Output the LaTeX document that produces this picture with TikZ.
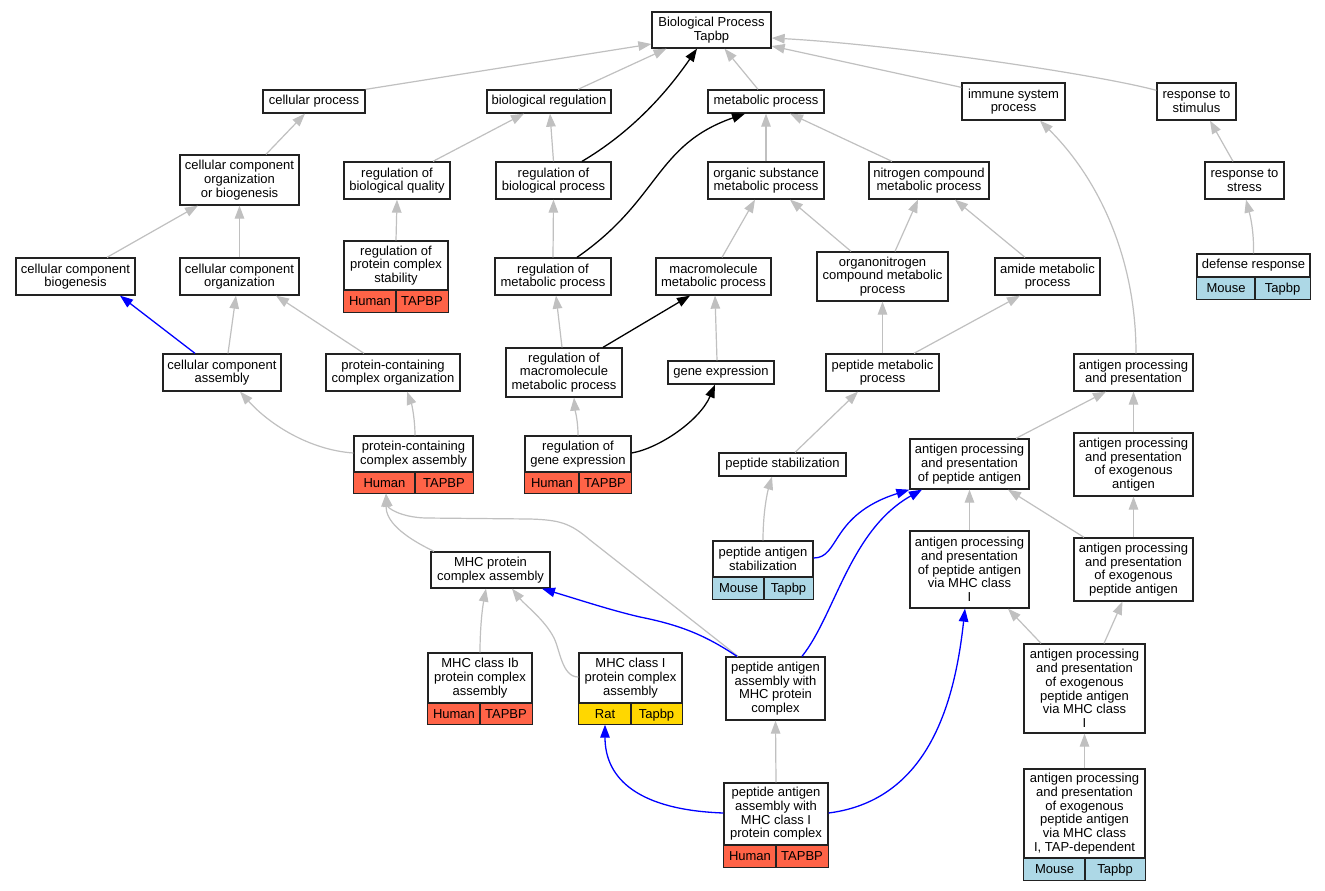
\documentclass[tikz,border=0pt]{standalone}
\usepackage{fontspec}
\setmainfont{Liberation Sans}
\usetikzlibrary{arrows.meta,fit,calc}
\definecolor{tomatoc}{HTML}{FF6347}
\definecolor{lblue}{HTML}{ADD8E6}
\definecolor{goldc}{HTML}{FFD700}
\definecolor{edgegray}{HTML}{C0C0C0}
\definecolor{bordc}{HTML}{222222}
\tikzset{
  box/.style={draw=bordc, line width=1.3pt, fill=white, inner sep=0pt},
  txt/.style={inner sep=0pt, align=center, font=\fontsize{13}{13.7}\selectfont},
  bd/.style={draw=bordc, line width=1.3pt},
  spHuman/.style={fill=tomatoc},
  spMouse/.style={fill=lblue},
  spRat/.style={fill=goldc},
  g/.style={draw=edgegray, line width=1.2pt, -{Triangle[length=13pt,width=9.5pt]}},
  k/.style={draw=black, line width=1.3pt, -{Triangle[length=13pt,width=9.5pt]}},
  b/.style={draw=blue, line width=1.3pt, -{Triangle[length=13pt,width=9.5pt]}}
}
\def\spaHuman{Human}\def\spbHuman{TAPBP}
\def\spaMouse{Mouse}\def\spbMouse{Tapbp}
\def\spaRat{Rat}\def\spbRat{Tapbp}
\newcommand\gob[6]{\node[box, fit={(#2,#3) (#4,#5)}] (#1) {};
  \node[txt] at (#1.center) {#6};}
\newcommand\spn[9]{%
  \node[box, fit={(#2,#3) (#4,#6)}] (#1) {};
  \fill[sp#9] (#2,#5) rectangle (#4,#6);
  \draw[bd] (#2,#5) -- (#4,#5) (#7,#5) -- (#7,#6);
  \draw[bd] (#1.north west) rectangle (#1.south east);
  \node[txt] at ({(#2+#4)/2},{(#3+#5)/2}) {#8};
  \node[txt, anchor=base] at ({(#2+#7)/2},{(#5+#6)/2+4.6}) {\csname spa#9\endcsname};
  \node[txt, anchor=base] at ({(#7+#4)/2},{(#5+#6)/2+4.6}) {\csname spb#9\endcsname};
}
\begin{document}
\begin{tikzpicture}[x=1pt,y=-1pt]
\useasboundingbox[fill=white] (0,0) rectangle (1325,891);
% nodes
\gob{BP}{652}{12}{771}{48}{Biological Process\\Tapbp}
\gob{cp}{263}{90}{365}{113}{cellular process}
\gob{br}{487}{90}{611}{113}{biological regulation}
\gob{mp}{708}{90}{824}{113}{metabolic process}
\gob{isp}{962}{83}{1065}{120}{immune system\\process}
\gob{rs}{1157}{83}{1236}{120}{response to\\stimulus}
\gob{ccob}{180}{155}{299}{205}{cellular component\\organization\\or biogenesis}
\gob{rbq}{344}{162}{450}{199}{regulation of\\biological quality}
\gob{rbp}{496}{162}{611}{199}{regulation of\\biological process}
\gob{osm}{708}{162}{824}{199}{organic substance\\metabolic process}
\gob{ncm}{869}{162}{989}{199}{nitrogen compound\\metabolic process}
\gob{rst}{1205}{162}{1284}{199}{response to\\stress}
\gob{ccb}{16}{258}{135}{295}{cellular component\\biogenesis}
\gob{cco}{180}{258}{299}{295}{cellular component\\organization}
\spn{rpcs}{344}{241}{448}{290}{312}{396}{regulation of\\protein complex\\stability}{Human}
\gob{rmp}{495}{258}{611}{295}{regulation of\\metabolic process}
\gob{mmp}{656}{258}{771}{295}{macromolecule\\metabolic process}
\gob{onc}{817}{252}{948}{301}{organonitrogen\\compound metabolic\\process}
\gob{amp}{995}{258}{1100}{295}{amide metabolic\\process}
\spn{dr}{1197}{254}{1310}{277}{299}{1255}{defense response}{Mouse}
\gob{cca}{163}{354}{281}{391}{cellular component\\assembly}
\gob{pcco}{326}{354}{460}{391}{protein-containing\\complex organization}
\gob{rmm}{506}{348}{622}{397}{regulation of\\macromolecule\\metabolic process}
\gob{ge}{668}{361}{774}{384}{gene expression}
\gob{pmp}{826}{354}{939}{391}{peptide metabolic\\process}
\gob{app}{1074}{354}{1193}{391}{antigen processing\\and presentation}
\spn{pcca}{354}{436}{473}{472}{493}{415}{protein-containing\\complex assembly}{Human}
\spn{rge}{525}{436}{631}{472}{493}{579}{regulation of\\gene expression}{Human}
\gob{ps}{719}{453}{846}{476}{peptide stabilization}
\gob{appa}{910}{439}{1029}{489}{antigen processing\\and presentation\\of peptide antigen}
\gob{appe}{1074}{433}{1193}{496}{antigen processing\\and presentation\\of exogenous\\antigen}
\spn{pas}{713}{541}{813}{577}{599}{764}{peptide antigen\\stabilization}{Mouse}
\gob{mhca}{431}{552}{550}{588}{MHC protein\\complex assembly}
\gob{appm1}{910}{531}{1029}{608}{antigen processing\\and presentation\\of peptide antigen\\via MHC class\\I}
\gob{appep}{1074}{538}{1193}{601}{antigen processing\\and presentation\\of exogenous\\peptide antigen}
\spn{mhcib}{428}{653}{532}{703}{724}{480}{MHC class Ib\\protein complex\\assembly}{Human}
\spn{mhci}{579}{653}{682}{703}{724}{631}{MHC class I\\protein complex\\assembly}{Rat}
\gob{pamhc}{726}{657}{825}{720}{peptide antigen\\assembly with\\MHC protein\\complex}
\spn{pamhc1}{724}{783}{828}{845}{867}{776}{peptide antigen\\assembly with\\MHC class I\\protein complex}{Human}
\gob{appepm1}{1024}{644}{1145}{733}{antigen processing\\and presentation\\of exogenous\\peptide antigen\\via MHC class\\I}
\spn{tap}{1024}{769}{1145}{858}{880}{1085}{antigen processing\\and presentation\\of exogenous\\peptide antigen\\via MHC class\\I, TAP-dependent}{Mouse}
% gray edges
\draw[g] (cp.north east) -- ([yshift=-14pt]BP.west);
\draw[g] ([xshift=29pt]br.north) -- ([xshift=-45pt]BP.south);
\draw[g] ([xshift=-8pt]mp.north) -- ([xshift=13pt]BP.south);
\draw[g] ([yshift=-5pt]isp.north west) -- ([yshift=-16pt]BP.east);
\draw[g] ([yshift=-8pt]rs.north west) .. controls (1100,75) and (900,45) .. ([yshift=-8pt]BP.east);
\draw[g] ([xshift=26.5pt]ccob.north) -- ([xshift=-9pt]cp.south);
\draw[g] ([xshift=36pt]rbq.north) -- ([xshift=-25pt]br.south);
\draw[g] (rbp.north) -- ([xshift=1pt]br.south);
\draw[g] (osm.north) -- (mp.south);
\draw[g] ([xshift=-37pt]ncm.north) -- ([xshift=24pt]mp.south);
\draw[g] ([xshift=-11.5pt]rst.north) -- ([xshift=13.5pt]rs.south);
\draw[g] ([xshift=31.5pt]ccb.north) -- ([xshift=-41.5pt]ccob.south);
\draw[g] (cco.north) -- (ccob.south);
\draw[g] (rpcs.north) -- (rbq.south);
\draw[g] (rmp.north) -- (rbp.south);
\draw[g] ([xshift=8.5pt]mmp.north) -- ([xshift=-11pt]osm.south);
\draw[g] ([xshift=-31.5pt]onc.north) -- ([xshift=24pt]osm.south);
\draw[g] ([xshift=12.5pt]onc.north) -- ([xshift=-11pt]ncm.south);
\draw[g] ([xshift=-22.5pt]amp.north) -- ([xshift=26pt]ncm.south);
\draw[g] (dr.north) .. controls (1254,230) and (1250,215) .. ([xshift=1.5pt]rst.south);
\draw[g] ([xshift=6pt]cca.north) -- ([xshift=-3.5pt]cco.south);
\draw[g] ([xshift=-29pt]pcco.north) -- ([xshift=36.5pt]cco.south);
\draw[g] ([xshift=-2pt]rmm.north) -- ([xshift=3pt]rmp.south);
\draw[g] ([xshift=-4pt]ge.north) -- ([xshift=1.5pt]mmp.south);
\draw[g] (pmp.north) -- (onc.south);
\draw[g] ([xshift=31.5pt]pmp.north) -- ([xshift=-27.5pt]amp.south);
\draw[g] ([xshift=2.5pt]app.north) .. controls (1136,260) and (1100,180) .. ([xshift=26.5pt]isp.south);
\draw[g] ([yshift=11.5pt]pcca.west) .. controls (310,450) and (270,425) .. ([xshift=18pt]cca.south);
\draw[g] ([xshift=1.5pt]pcca.north) .. controls (415,420) and (412,405) .. ([xshift=14pt]pcco.south);
\draw[g] (rge.north) .. controls (578,420) and (575,410) .. ([xshift=10pt]rmm.south);
\draw[g] ([xshift=12.5pt]ps.north) -- ([xshift=-24.5pt]pmp.south);
\draw[g] ([xshift=46.5pt]appa.north) -- ([xshift=-27.5pt]app.south);
\draw[g] (appe.north) -- (app.south);
\draw[g] ([xshift=-56.5pt]mhca.north) .. controls (400,535) and (386,520) .. ([xshift=-27.5pt]pcca.south);
\draw[g] ([xshift=-37.5pt]pamhc.north) -- (590,540) .. controls (570,523) and (560,520) .. (530,519) -- (425,518) .. controls (400,517) and (388,508) .. ([xshift=-27.5pt]pcca.south);
\draw[g] (pas.north) .. controls (763,510) and (768,490) .. ([xshift=-10.5pt]ps.south);
\draw[g] (appm1.north) -- (appa.south);
\draw[g] ([xshift=-49.5pt]appep.north) -- ([xshift=38.5pt]appa.south);
\draw[g] (appep.north) -- (appe.south);
\draw[g] (mhcib.north) .. controls (480,630) and (482,610) .. ([xshift=-4.5pt]mhca.south);
\draw[g] ([yshift=11.5pt]mhci.west) .. controls (562,677) and (560,650) .. (554,638) .. controls (545,620) and (525,605) .. ([xshift=21.5pt]mhca.south);
\draw[g] ([xshift=-43.5pt]appepm1.north) -- ([xshift=38.5pt]appm1.south);
\draw[g] ([xshift=19.5pt]appepm1.north) -- ([xshift=-11pt]appep.south);
\draw[g] (tap.north) -- (appepm1.south);
\draw[g] (pamhc1.north) -- (pamhc.south);
% black edges
\draw[k] ([xshift=28.5pt]rbp.north) .. controls (630,133) and (665,95) .. ([xshift=-14.5pt]BP.south);
\draw[k] ([xshift=24pt]rmp.north) .. controls (660,200) and (655,145) .. ([xshift=-21pt]mp.south);
\draw[k] ([xshift=39pt]rmm.north) -- ([xshift=-23.5pt]mmp.south);
\draw[k] ([yshift=11.5pt]rge.east) .. controls (660,448) and (700,420) .. ([xshift=-6pt]ge.south);
% blue edges
\draw[b] ([xshift=-27pt]cca.north) -- ([xshift=44.5pt]ccb.south);
\draw[b] ([yshift=12pt]pas.east) .. controls (840,558) and (830,515) .. (appa.south west);
\draw[b] ([xshift=26.5pt]pamhc.north) .. controls (835,615) and (850,530) .. ([xshift=-47.5pt]appa.south);
\draw[b] ([xshift=-38.5pt]pamhc.north) .. controls (705,635) and (680,625) .. (640,617) .. controls (610,610) and (580,600) .. ([xshift=51.5pt]mhca.south);
\draw[b] ([yshift=12pt]pamhc1.west) .. controls (640,810) and (605,780) .. ([xshift=-25.5pt]mhci.south);
\draw[b] ([yshift=12pt]pamhc1.east) .. controls (930,800) and (955,700) .. ([xshift=-4.5pt]appm1.south);
\end{tikzpicture}
\end{document}
